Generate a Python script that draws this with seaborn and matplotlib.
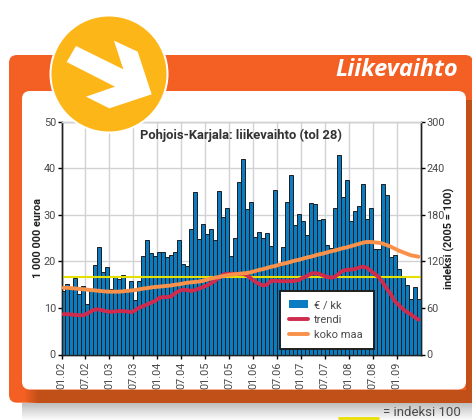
import matplotlib
matplotlib.use('Agg')

import matplotlib.pyplot as plt
import seaborn as sns
import numpy as np
from matplotlib.lines import Line2D
from matplotlib.patches import Circle, FancyBboxPatch, Patch, Polygon, Rectangle

# euro per household, one bar per month from 01.02
sales = [13.6, 15.2, 14.0, 16.4, 13.1, 14.7, 10.8, 14.0, 19.2, 23.0,
         17.8, 18.7, 14.0, 16.9, 16.2, 17.1, 14.0, 15.8, 11.6, 15.8,
         21.1, 24.6, 21.8, 21.1, 22.1, 22.1, 20.9, 21.4, 22.0, 24.5,
         19.4, 19.0, 26.9, 35.0, 24.9, 28.0, 25.9, 26.9, 24.6, 35.2,
         29.5, 31.4, 21.1, 25.0, 37.0, 42.0, 31.2, 32.8, 25.3, 26.4,
         25.1, 26.2, 23.4, 35.3, 19.0, 23.0, 32.8, 38.5, 27.8, 30.1,
         28.7, 25.7, 32.5, 32.3, 28.9, 29.1, 23.6, 22.9, 31.4, 42.8,
         33.8, 37.5, 28.7, 30.8, 31.8, 36.6, 29.2, 31.5, 22.7, 22.7,
         36.6, 34.2, 21.0, 21.3, 18.4, 16.9, 15.0, 12.0, 14.5, 11.9]

trend = [52, 52, 51.5, 51, 50.5, 50.5, 53, 56, 58, 58,
         56.5, 55.5, 55, 55.5, 56, 56, 55.5, 54.5, 57, 60.5,
         62.5, 64.5, 67, 69, 73, 74, 74, 75, 79, 82,
         83.5, 83, 82, 83, 85, 87, 89, 92, 95, 99,
         103, 104, 104, 104, 104, 104, 102, 98, 94, 91,
         89, 90, 95, 95, 94.5, 94.5, 94.5, 94.5, 95, 96,
         99, 101, 104, 105, 104, 102, 100, 99, 100, 104,
         108, 109, 109.5, 110, 112, 113, 112, 108, 104, 100,
         93, 85, 78, 69, 64, 59, 55, 52, 48, 45]

whole_country = [86, 86, 85.5, 85, 84.5, 84, 83.5, 83, 82.5, 82,
                 81.5, 81, 81, 81, 81, 81.5, 82, 82.5, 83, 84,
                 85, 85.5, 86.5, 87, 87.5, 88, 88.5, 89, 90, 90.5,
                 91.5, 92.5, 93, 93.5, 94, 95, 96.5, 98, 99, 100,
                 101, 102, 103, 103.5, 104, 104.5, 105, 106, 107.5, 109,
                 110, 111.5, 113, 114, 115.5, 117, 118, 119.5, 121, 122,
                 123.5, 125, 126, 127.5, 129, 130, 131.5, 133, 134, 135.5,
                 137, 138, 139.5, 141, 142.5, 144, 145, 145, 144.5, 144,
                 143, 141, 139, 136.5, 134, 132, 130, 128, 127, 126]

index_base = 100
xtick_labels = ["01.02", "07.02", "01.03", "07.03", "01.04", "07.04", "01.05", "07.05",
                "01.06", "07.06", "01.07", "07.07", "01.08", "07.08", "01.09"]
left_ticks = [0, 10, 20, 30, 40, 50]
right_ticks = [0, 60, 120, 180, 240, 300]

ORANGE = "#F46023"
DARK_ORANGE = "#C04F18"
YELLOW = "#FDB618"
BLUE = "#0A7DC2"
RED = "#CF2B4E"
LINE_ORANGE = "#F9914A"
TEXT = "#4A4A4A"

sns.set_theme(style="white")
plt.rcParams['font.family'] = ['Roboto', 'DejaVu Sans']

W, H = 472, 420
fig = plt.figure(figsize=(W / 100, H / 100), dpi=100, facecolor="white")

# background card, in pixel coordinates
bg = fig.add_axes([0, 0, 1, 1], zorder=0)
bg.set_xlim(0, W)
bg.set_ylim(H, 0)
bg.axis("off")
for k in range(17):
    bg.add_patch(Rectangle((22, 403 + k), W - 22, 1, color="#808080", alpha=0.5 * (1 - k / 17), lw=0))
bg.add_patch(FancyBboxPatch((15, 61), 452, 335.7, boxstyle="round,pad=6,rounding_size=8", fc=ORANGE, ec="none"))
# darker edge fades in from the left along the bottom
for k in range(14):
    bg.add_patch(Rectangle((24 + k, 390), 1, 12.7, color=DARK_ORANGE, alpha=k / 14, lw=0))
bg.add_patch(Rectangle((38, 390), W - 38, 12.7, color=DARK_ORANGE, lw=0))
bg.add_patch(Rectangle((466, 100), 6, 302.7, color=DARK_ORANGE, lw=0))
bg.add_patch(FancyBboxPatch((30, 99), 428, 282.5, boxstyle="round,pad=8,rounding_size=8", fc="white", ec="none"))
bg.text(458, 70, "Liikevaihto", color="white", fontsize=17, fontweight="bold", fontstyle="italic",
        ha="right", va="center", family="Open Sans")
bg.plot([339, 378], [417.5, 417.5], color="#EADF00", lw=2)
bg.text(461, 412.5, "= indeksi 100", color=TEXT, fontsize=9.5, ha="right", va="center")

# chart
ax = fig.add_axes([61.5 / W, (H - 354.5) / H, 359 / W, 232.8 / H], zorder=1)
ax.patch.set_alpha(0)
ax2 = ax.twinx()
ax2.set_zorder(2)
ax2.patch.set_alpha(0)

months = np.arange(len(sales))
sns.barplot(x=months, y=sales, ax=ax, color=BLUE, width=1, saturation=1,
            edgecolor="#1E1E1E", linewidth=0.7, zorder=3)
ax.set_xlim(-0.5, len(sales) - 0.5)
ax.set_ylim(0, 50)
ax.set_yticks(left_ticks)
ax.set_xticks(np.arange(len(xtick_labels)) * 6 - 0.5)
ax.set_xticklabels(xtick_labels, rotation=90, fontsize=7.8, color=TEXT)
ax.tick_params(axis="y", labelsize=7.8, labelcolor=TEXT, length=3, width=1, color="black", pad=1, left=True)
ax.tick_params(axis="x", length=3, width=1, color="black", pad=2, bottom=True)
ax.grid(True, color="#D2D2D2", linewidth=1)
ax.set_axisbelow(True)
ax.set_ylabel("")

ax2.axhline(index_base, color="#E6E000", lw=1.5, zorder=2)
sns.lineplot(x=months, y=trend, ax=ax2, color=RED, lw=2.8, zorder=4, legend=False)
sns.lineplot(x=months, y=whole_country, ax=ax2, color=LINE_ORANGE, lw=2.8, zorder=5, legend=False)
ax2.set_ylim(0, 300)
ax2.set_yticks(right_ticks)
ax2.tick_params(axis="y", labelsize=7.8, labelcolor=TEXT, length=3, width=1, color="black", pad=1, right=True)
ax2.grid(False)

for a in (ax, ax2):
    a.spines["left"].set_color("#222222")
    a.spines["right"].set_color("#222222")
    a.spines["bottom"].set_color("#222222")
    a.spines["top"].set_color("#D2D2D2")
    for s in a.spines.values():
        s.set_linewidth(1)

handles = [Patch(fc=BLUE, ec="none"),
           Line2D([], [], color=RED, lw=2.8, solid_capstyle="round"),
           Line2D([], [], color=LINE_ORANGE, lw=2.8, solid_capstyle="round")]
leg = ax2.legend(handles, ["€ / kk", "trendi", "koko maa"],
                 bbox_to_anchor=(280 / W, (H - 349) / H, 94 / W, 61 / H), bbox_transform=fig.transFigure,
                 loc="lower left", mode="expand", fancybox=False, framealpha=1, edgecolor="#1E1E1E",
                 fontsize=8, labelcolor=TEXT, borderpad=0.85, labelspacing=0.42,
                 handlelength=1.7, handletextpad=0.5, borderaxespad=0)
leg.get_frame().set_linewidth(1.4)
leg.set_zorder(10)

fig.text(241 / W, (H - 135) / H, "Pohjois-Karjala: liikevaihto (tol 28)", fontsize=9.4, fontweight="bold",
         color="#333333", ha="center", va="center", zorder=5)
fig.text(38 / W, (H - 237.5) / H, "1 000 000 euroa", rotation=90, fontsize=7.8, fontweight="bold",
         color="#222222", ha="center", va="center", zorder=5)
fig.text(449 / W, (H - 238) / H, "indeksi (2005 = 100)", rotation=90, fontsize=7.8, fontweight="bold",
         color="#222222", ha="center", va="center", zorder=5)

# badge with arrow on top of everything
fg = fig.add_axes([0, 0, 1, 1], zorder=3)
fg.set_xlim(0, W)
fg.set_ylim(H, 0)
fg.axis("off")
fg.patch.set_alpha(0)
fg.add_patch(Circle((109, 74), 59.5, fc="white", ec="none"))
fg.add_patch(Circle((109, 74), 57.5, fc=YELLOW, ec="none"))
arrow = np.array([(228, 138), (200, 186), (345, 260), (258, 290), (328, 325),
                  (455, 283), (413, 155), (342, 122), (370, 208)]) / 3
fg.add_patch(Polygon(arrow, closed=True, fc="white", ec="none"))

plt.savefig("out.png", dpi=100)
plt.close(fig)
